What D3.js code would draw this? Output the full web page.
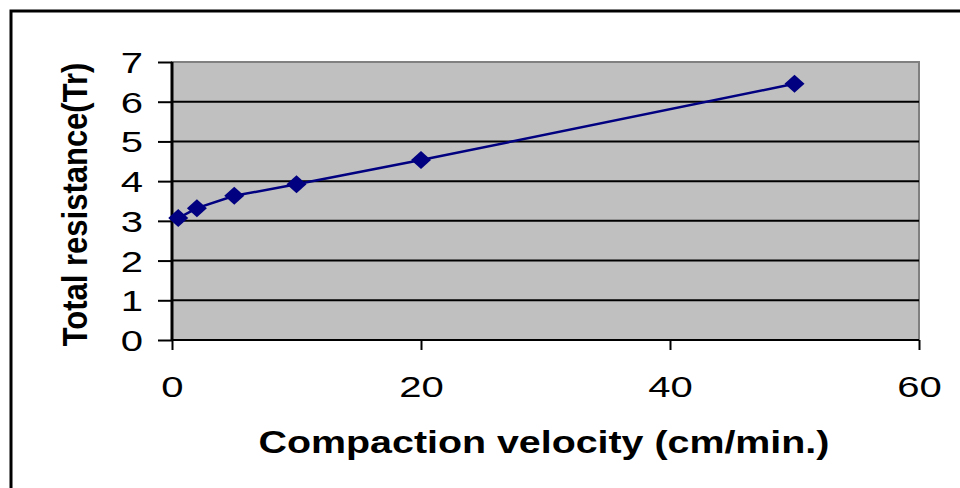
<!DOCTYPE html>
<html><head><meta charset="utf-8">
<script src="https://cdn.jsdelivr.net/npm/d3@7"></script>
<style>body{margin:0;background:#fff}svg{display:block}</style>
</head><body>
<script>
const velocity = [0.5, 2, 5, 10, 20, 50];
const resistance = [3.07, 3.32, 3.63, 3.92, 4.53, 6.45];
const xTicks = [0, 20, 40, 60];
const yTicks = [0, 1, 2, 3, 4, 5, 6, 7];
const xTitle = "Compaction velocity (cm/min.)";
const yTitle = "Total resistance(Tr)";

const W = 960, H = 488;
const svg = d3.select("body").append("svg").attr("width", W).attr("height", H);
const L = 172, R = 919, T = 62, B = 340;
const x = d3.scaleLinear().domain([0, 60]).range([L, R]);
const y = d3.scaleLinear().domain([0, 7]).range([B, T]);
const SX = 1.38; // horizontal stretch of the original picture's text

// outer frame
svg.append("rect").attr("x", 11).attr("y", 11).attr("width", W + 10).attr("height", H + 10)
  .attr("fill", "none").attr("stroke", "#000").attr("stroke-width", 3);

// plot area
svg.append("rect").attr("x", L).attr("y", T).attr("width", R - L).attr("height", B - T)
  .attr("fill", "#c0c0c0").attr("stroke", "#808080").attr("stroke-width", 2);

// gridlines
svg.append("g").selectAll("line").data(yTicks.filter(d => d > 0 && d < 7)).join("line")
  .attr("x1", L).attr("x2", R).attr("y1", d => y(d)).attr("y2", d => y(d))
  .attr("stroke", "#000").attr("stroke-width", 2);

const font = "'Liberation Sans', Arial, sans-serif";

// y axis
const yAxis = d3.axisLeft(y).tickValues(yTicks).tickSize(14).tickPadding(0).tickFormat(d3.format("d"));
const gy = svg.append("g").attr("transform", `translate(${L},0)`).call(yAxis);
gy.select(".domain").attr("stroke", "#000").attr("stroke-width", 3).attr("d", `M0,${T}V${B}`);
gy.selectAll(".tick line").attr("stroke", "#000").attr("stroke-width", 2);
gy.selectAll(".tick text").attr("font-family", font).attr("font-size", 29).attr("fill", "#000")
  .attr("x", -29 / SX).attr("dy", "0.36em").attr("transform", `scale(${SX},1)`);

// x axis
const xAxis = d3.axisBottom(x).tickValues(xTicks).tickSize(10).tickPadding(26).tickFormat(d3.format("d"));
const gx = svg.append("g").attr("transform", `translate(0,${B})`).call(xAxis);
gx.select(".domain").attr("stroke", "#000").attr("stroke-width", 2).attr("d", `M${L},0H${R}`);
gx.selectAll(".tick line").attr("stroke", "#000").attr("stroke-width", 2);
gx.selectAll(".tick text").attr("font-family", font).attr("font-size", 29).attr("fill", "#000")
  .attr("transform", `scale(${SX},1)`);

// line
const pts = velocity.map((v, i) => [v, resistance[i]]);
svg.append("path").datum(pts)
  .attr("d", d3.line().x(d => x(d[0])).y(d => y(d[1])))
  .attr("fill", "none").attr("stroke", "#000080").attr("stroke-width", 2.5);

// markers
svg.append("g").selectAll("path").data(pts).join("path")
  .attr("transform", d => `translate(${x(d[0])},${y(d[1])})`)
  .attr("d", "M0,-9L10,0L0,9L-10,0Z").attr("fill", "#000080");

// titles
svg.append("text").attr("transform", `translate(544,453) scale(1.27,1)`).attr("text-anchor", "middle")
  .attr("font-family", font).attr("font-weight", "bold").attr("font-size", 31).attr("fill", "#000")
  .text(xTitle);
svg.append("text").attr("transform", `translate(87,204.5) scale(1.13,1) rotate(-90)`).attr("text-anchor", "middle")
  .attr("font-family", font).attr("font-weight", "bold").attr("font-size", 31).attr("fill", "#000")
  .text(yTitle);
</script>
</body></html>
